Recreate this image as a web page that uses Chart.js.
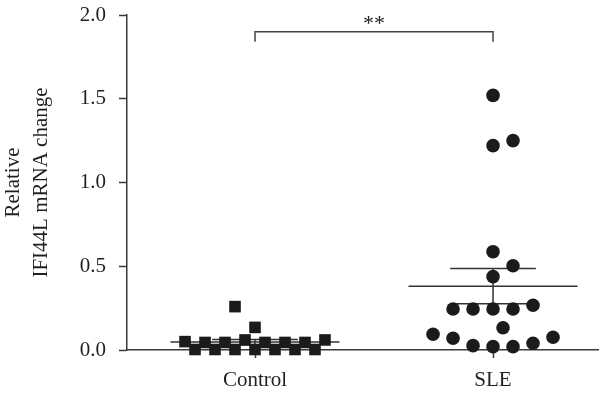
<!DOCTYPE html>
<html>
<head>
<meta charset="utf-8">
<script src="https://cdn.jsdelivr.net/npm/chart.js@4.4.1/dist/chart.umd.min.js"></script>
<style>
  html, body { margin: 0; padding: 0; background: #fff; }
  #wrap { width: 600px; height: 398px; position: relative; }
</style>
</head>
<body>
<div id="wrap"><canvas id="c" width="600" height="398"></canvas></div>
<script>
// Categories and tick labels
const categories = ['Control', 'SLE'];
const yTicks = [0, 0.5, 1.0, 1.5, 2.0];

// Control group: relative IFI44L mRNA change
const controlValues = [0.259, 0.135,
  0.05, 0.045, 0.045, 0.06, 0.045, 0.045, 0.045, 0.06,
  0.003, 0.003, 0.003, 0.003, 0.003, 0.003, 0.003];
// dot-plot column slot of each control point (beeswarm arrangement)
const controlSlots = [-1, 0,
  -3.5, -2.5, -1.5, -0.5, 0.5, 1.5, 2.5, 3.5,
  -3, -2, -1, 0, 1, 2, 3];

// SLE group
const sleValues = [1.52, 1.22, 1.25, 0.587, 0.503, 0.438,
  0.245, 0.245, 0.245, 0.245, 0.267, 0.133,
  0.094, 0.07, 0.026, 0.02, 0.02, 0.04, 0.076];
const sleSlots = [0, 0, 1, 0, 1, 0,
  -2, -1, 0, 1, 2, 0.5,
  -3, -2, -1, 0, 1, 2, 3];

// significance annotation
const sigLabel = '**';
const sigLevel = 1.9;

const SLOT = 0.084;        // category units per dot column
const MEAN_HALF = 0.355;   // half width of mean line
const CAP_HALF = 0.18;     // half width of SEM caps
const INK = '#1b1b1b';
const AXIS = '#3a3a3a';
const TEXT = '#231f20';
const FONT = "'Liberation Serif', 'DejaVu Serif', serif";

function pts(vals, slots, cat) {
  return vals.map((v, i) => ({ x: cat + slots[i] * SLOT, y: v }));
}
function meanSem(vals) {
  const n = vals.length;
  const m = vals.reduce((a, b) => a + b, 0) / n;
  const sd = Math.sqrt(vals.reduce((a, b) => a + (b - m) * (b - m), 0) / (n - 1));
  return { m, sem: sd / Math.sqrt(n) };
}
function summaryLines(vals, cat) {
  const { m, sem } = meanSem(vals);
  return [
    { x: cat - MEAN_HALF, y: m }, { x: cat + MEAN_HALF, y: m }, { x: NaN, y: null },
    { x: cat - CAP_HALF, y: m + sem }, { x: cat + CAP_HALF, y: m + sem }, { x: NaN, y: null },
    { x: cat - CAP_HALF, y: m - sem }, { x: cat + CAP_HALF, y: m - sem }, { x: NaN, y: null },
    { x: cat, y: m + sem }, { x: cat, y: m - sem }
  ];
}

const bracketPlugin = {
  id: 'bracket',
  afterDatasetsDraw(chart) {
    const { ctx, scales: { x, y } } = chart;
    const x1 = x.getPixelForValue(1), x2 = x.getPixelForValue(2);
    const yb = y.getPixelForValue(sigLevel);
    const drop = 10;
    ctx.save();
    ctx.strokeStyle = '#444';
    ctx.lineWidth = 1.5;
    ctx.beginPath();
    ctx.moveTo(x1, yb + drop);
    ctx.lineTo(x1, yb);
    ctx.lineTo(x2, yb);
    ctx.lineTo(x2, yb + drop);
    ctx.stroke();
    ctx.fillStyle = TEXT;
    ctx.font = '22px ' + FONT;
    ctx.textAlign = 'center';
    ctx.textBaseline = 'alphabetic';
    ctx.fillText(sigLabel, (x1 + x2) / 2, yb - 1.5);
    ctx.restore();
  }
};

new Chart(document.getElementById('c'), {
  type: 'scatter',
  data: {
    datasets: [
      { data: pts(controlValues, controlSlots, 1), pointStyle: 'rect', pointRadius: 8.2,
        backgroundColor: INK, borderColor: INK, borderWidth: 0, clip: false },
      { data: pts(sleValues, sleSlots, 2), pointStyle: 'circle', pointRadius: 6.8,
        backgroundColor: INK, borderColor: INK, borderWidth: 0, clip: false },
      { type: 'line', data: summaryLines(controlValues, 1), showLine: true, spanGaps: false,
        pointRadius: 0, borderColor: '#333', borderWidth: 1.5, fill: false },
      { type: 'line', data: summaryLines(sleValues, 2), showLine: true, spanGaps: false,
        pointRadius: 0, borderColor: '#333', borderWidth: 1.5, fill: false }
    ]
  },
  options: {
    responsive: false,
    animation: false,
    events: [],
    layout: { autoPadding: false, padding: { top: 15, right: 2, left: 0, bottom: 0 } },
    plugins: { legend: { display: false }, tooltip: { enabled: false } },
    scales: {
      x: {
        type: 'linear', min: 0.4622, max: 2.441,
        afterBuildTicks(s) { s.ticks = [{ value: 1 }, { value: 2 }]; },
        afterFit(s) { s.height = 48; s.paddingLeft = 0; s.paddingRight = 0; },
        ticks: { callback: v => categories[Math.round(v) - 1], color: TEXT, padding: 10,
          font: { family: FONT, size: 21 }, maxRotation: 0 },
        grid: { drawOnChartArea: false, drawTicks: true, tickLength: 8, tickColor: AXIS, tickWidth: 1.5 },
        border: { color: AXIS, width: 1.5 }
      },
      y: {
        type: 'linear', min: 0, max: 2,
        afterBuildTicks(s) { s.ticks = yTicks.map(v => ({ value: v })); },
        afterFit(s) { s.width = 127; s.paddingTop = 0; s.paddingBottom = 0; },
        ticks: { callback: v => v.toFixed(1), color: TEXT, padding: 13,
          font: { family: FONT, size: 21 } },
        grid: { drawOnChartArea: false, drawTicks: true, tickLength: 8, tickColor: AXIS, tickWidth: 1.5 },
        border: { color: AXIS, width: 1.5 },
        title: { display: true, text: ['Relative', 'IFI44L mRNA change'], color: TEXT,
          font: { family: FONT, size: 21, lineHeight: 27.5 / 21 }, padding: 0 }
      }
    }
  },
  plugins: [bracketPlugin]
});
</script>
</body>
</html>
